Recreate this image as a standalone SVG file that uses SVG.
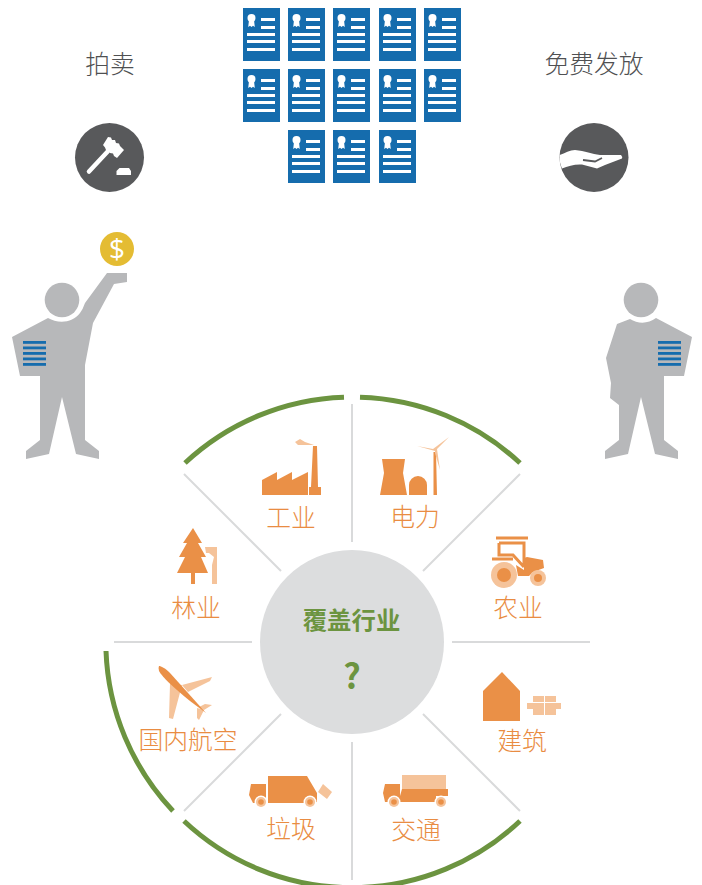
<svg xmlns="http://www.w3.org/2000/svg" width="702" height="885" viewBox="0 0 702 885">
<style>
text{font-family:"Noto Sans CJK SC","Noto Sans",sans-serif;text-anchor:middle}
.t{font-size:24.800px;fill:#4f5052;font-weight:300}
.l{font-size:24.800px;fill:#e98c42;font-weight:300}
.c{font-size:24.400px;fill:#6c9440;font-weight:700}
.o{fill:#ea9047}
.p{fill:#f5c39a}
.g{fill:#b7b8ba}
.d{fill:#58595b}
.spoke{stroke:#d9dadb;stroke-width:2;fill:none}
.arc{stroke:#6c9440;stroke-width:5;fill:none}
.b{fill:#156cad}
</style>
<defs>
<g id="doc">
<rect width="37" height="53" fill="#156cad"/>
<circle cx="8.500" cy="10" r="4" fill="#fff"/>
<path fill="#fff" d="M6 12H11L11.800 19L10 17.800L8.500 19L7 17.800L5.200 19z"/>
<path fill="#fff" d="M18 10h14v3H18zM18 18h14v3H18zM4 25h28v3H4zM4 32h28v3H4zM4 40h28v3H4z"/>
</g>
<g id="lines" class="b">
<rect x="0" y="0" width="23" height="2.800"/><rect x="0" y="5.500" width="23" height="2.800"/><rect x="0" y="11" width="23" height="2.800"/><rect x="0" y="16.500" width="23" height="2.800"/><rect x="0" y="22" width="23" height="2.800"/>
</g>
<g id="wheel">
<circle r="6.500" fill="#fff"/><circle r="5" class="p"/><circle r="2.800" class="o"/>
</g>
</defs>

<g id="connectors">
<path class="spoke" d="M352 404V542M352 742V880M114 642H252M452 642H590M184 474L281 571M520 474L423 571M184 811L281 714M520 811L423 714"/>
<path class="arc" d="M185 463A245 245 0 0 1 344 397.200M360 397.200A245 245 0 0 1 520 463M106 651A246 246 0 0 0 173 811M184 821A245 245 0 0 0 520 821"/>
</g>

<g id="title-auction"><text class="t" x="110" y="73">拍卖</text></g>
<g id="title-free"><text class="t" x="594" y="73">免费发放</text></g>

<g id="documents">
<use href="#doc" x="243" y="8"/><use href="#doc" x="288" y="8"/><use href="#doc" x="333" y="8"/><use href="#doc" x="379" y="8"/><use href="#doc" x="424" y="8"/>
<use href="#doc" x="243" y="69"/><use href="#doc" x="288" y="69"/><use href="#doc" x="333" y="69"/><use href="#doc" x="379" y="69"/><use href="#doc" x="424" y="69"/>
<use href="#doc" x="288" y="130"/><use href="#doc" x="333" y="130"/><use href="#doc" x="379" y="130"/>
</g>

<g id="gavel-icon">
<circle class="d" cx="109.500" cy="157.500" r="34.500"/>
<path d="M89 171.500L110 149" stroke="#fff" stroke-width="4.500" stroke-linecap="round"/>
<path fill="#fff" d="M108 137L111 137.500L112 140L115 140L116 143L119 143.500L120 146L124 150L117 158L114 156L113 153.500L110 153L109 150.500L106 150L105 147.500L103 145z"/>
<path fill="#fff" d="M119.500 168H129L131 171V175H116.500V171z"/>
</g>

<g id="hand-icon">
<circle class="d" cx="594" cy="157.500" r="34.500"/>
<path fill="#fff" d="M559.700 155C565 153 570 150 575 150C585 151 592 154 600 155L621 155Q623 157 622 158.500L605 165L597 168.500L582 164.500C575 164 568 166 562 168.500Q559 162 559.700 155z"/>
<path d="M583 160L595 161.500L602 158" stroke="#58595b" stroke-width="1.800" fill="none"/>
</g>

<g id="person-left">
<circle class="g" cx="62" cy="300" r="17.300"/>
<path class="g" d="M107 273H127V282L114 284L93 323L85 365V440L99 451V459L76 454L62 397L49 454L26 459V451L40 440V376H20L12 337L48 318C58 324 73 323 80 313Q83 309 85 303z"/>
<use href="#lines" x="23" y="341"/>
<circle cx="117" cy="249" r="17" fill="#e4bc33"/>
<text x="117" y="259" fill="#fff" style="font-size:28px;font-family:'Open Sans',sans-serif;font-weight:400">$</text>
</g>

<g id="person-right">
<circle class="g" cx="641" cy="300" r="17.300"/>
<path class="g" d="M617 324L630 319C638 324 648 324 656 318L692 337L684 376H664V440L678 451V459L655 454L641 397L628 454L605 459V451L619 440V405L610 398L611 383L606 358z"/>
<use href="#lines" x="658" y="341"/>
</g>

<g id="center">
<circle cx="352" cy="642" r="92" fill="#dcddde"/>
<text class="c" x="351.500" y="629">覆盖行业</text>
<text class="c" x="352" y="689" style="font-size:34px">?</text>
</g>

<g id="industry">
<path class="o" d="M262 495V480L277 472V480L292 472V480L308 472V495zM313 446H317L318 487H321V495H309V487H311z"/>
<path class="p" d="M295 442L300 439L305 442L314 445L298 445z"/>
<text class="l" x="291" y="527">工业</text>
</g>

<g id="power">
<path class="o" d="M382 459H405L403 473L407 495H380L384 473zM409 495V485A9 9 0 0 1 427 485V495zM433.500 452H436L437 495H433.500z"/>
<path class="p" d="M435 451L417 446L433 449L449 437L437 449L440 470L435 453z"/>
<text class="l" x="415" y="526">电力</text>
</g>

<g id="agriculture">
<path class="o" d="M527 557L543 560L544 568L533 572L529 576H518L516 565L524 570V558z"/>
<path fill="none" stroke="#ea9047" stroke-width="3" d="M496 538H528M499 543H524V567M499 543V555H513L524 567M492 559H513"/>
<circle cx="504" cy="575" r="13" class="p"/><circle cx="504" cy="575" r="7" class="o"/>
<circle cx="538" cy="578" r="8" class="p"/><circle cx="538" cy="578" r="4" class="o"/>
<text class="l" x="518" y="617">农业</text>
</g>

<g id="forestry">
<path class="o" d="M193 528L202 543H198L206 557H201L208 573H195V584H191V573H177L185 557H179L187 543H183z"/>
<path class="p" d="M205 547L217 547V584H212V565L214 557L209 553H206z"/>
<text class="l" x="196" y="617">林业</text>
</g>

<g id="aviation">
<path class="p" d="M170 684L169 718L173 719L182 685zM182 685L212 677L210 681L188 692zM197 708L197 718L199 720L204 710zM204 710L212 705L205 704L199 707z"/>
<path class="o" d="M159 666C161 666 165 668 170 673L206 713L190 701C175 689 162 677 159 671Q158 668 159 666z"/>
<text class="l" x="188" y="749">国内航空</text>
</g>

<g id="construction">
<path class="o" d="M483 691L502 672L520 691V721H483z"/>
<path class="p" d="M533 696H544V702H533zM545 696H556V702H545zM527 703H544V709H527zM545 703H561V709H545zM533 709H544V715H533zM545 709H556V715H545z"/>
<text class="l" x="522" y="750">建筑</text>
</g>

<g id="waste">
<path class="o" d="M268 776H307L317 793V802L305 803H268zM251 784H266V803H253L249 795z"/>
<path class="p" d="M323 784L332 792L327 799L318 792z"/>
<use href="#wheel" x="261" y="802"/><use href="#wheel" x="310" y="802"/>
<text class="l" x="291" y="838">垃圾</text>
</g>

<g id="transport">
<rect class="p" x="402" y="775" width="44" height="14"/>
<path class="o" d="M402 789H448V796H436V802H400V796zM385 784H400V802H385L383 793z"/>
<use href="#wheel" x="394" y="802"/><use href="#wheel" x="441" y="802"/>
<text class="l" x="416" y="839">交通</text>
</g>
</svg>
